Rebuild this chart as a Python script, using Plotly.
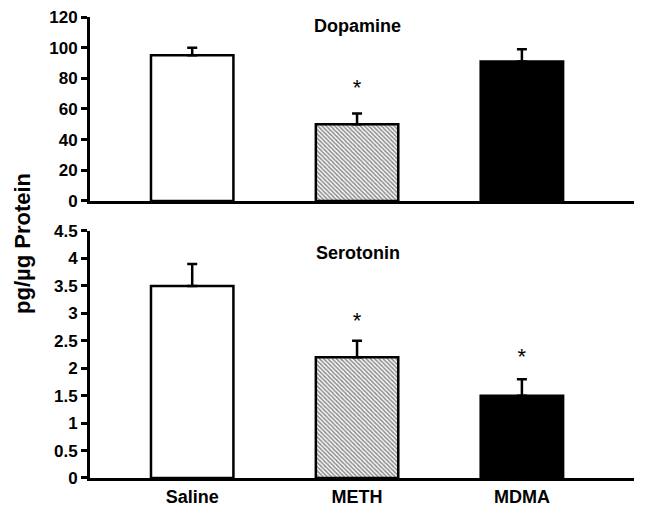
import plotly.graph_objects as go

categories = ["Saline", "METH", "MDMA"]
dopamine = [95, 50, 91]
dopamine_err = [5, 7, 8]
serotonin = [3.5, 2.2, 1.5]
serotonin_err = [0.4, 0.3, 0.3]
dopamine_star = [None, 73, None]
serotonin_star = [None, 2.84, 2.18]
dopamine_ticks = [0, 20, 40, 60, 80, 100, 120]
serotonin_ticks = [0, 0.5, 1, 1.5, 2, 2.5, 3, 3.5, 4, 4.5]
serotonin_ticktext = ["0", "0.5", "1", "1.5", "2", "2.5", "3", "3.5", "4", "4.5"]

fill_colors = ["white", "white", "black"]
patterns = ["", "\\", ""]

FONT = "Liberation Sans, Arial, sans-serif"

# page has an 8px body margin: size figure so it fits the 649x506 window
OFF = 8
W, H = 649 - OFF, 506 - OFF
ML, MR, MT, MB = 90 - OFF, 15, 17 - OFF, 28

fig = go.Figure()


def add_panel(values, errs, stars, xa, ya):
    for i, cat in enumerate(categories):
        marker = dict(color=fill_colors[i], line=dict(color="black", width=2.5))
        if patterns[i]:
            marker["pattern"] = dict(shape=patterns[i], size=3, solidity=0.55,
                                     fgcolor="#222222", fillmode="overlay")
        fig.add_trace(go.Bar(
            x=[cat], y=[values[i]], width=0.5, marker=marker,
            error_y=dict(type="data", array=[errs[i]], arrayminus=[0], symmetric=False,
                         color="black", thickness=2.5, width=5),
            xaxis=xa, yaxis=ya, showlegend=False))
    fig.add_trace(go.Scatter(
        x=categories, y=stars, mode="text",
        text=["*" if s is not None else "" for s in stars],
        textfont=dict(family=FONT, size=22, color="black"),
        xaxis=xa, yaxis=ya, showlegend=False, hoverinfo="skip"))


add_panel(dopamine, dopamine_err, dopamine_star, "x", "y")
add_panel(serotonin, serotonin_err, serotonin_star, "x2", "y2")

xrange = [-0.62, 2.68]
axis_common = dict(showline=True, linecolor="black", linewidth=3, showgrid=False,
                   zeroline=False, mirror=False, automargin=False,
                   ticklabeloverflow="allow")
tickfont = dict(family=FONT, size=17, color="black", weight="bold")

fig.update_layout(
    width=W, height=H,
    margin=dict(l=ML, r=MR, t=MT, b=MB, autoexpand=False),
    paper_bgcolor="white", plot_bgcolor="white",
    font=dict(family=FONT, color="black", size=16),
    barmode="overlay",
    xaxis=dict(domain=[0, 1], anchor="y", range=xrange, showticklabels=False, ticks="",
               **axis_common),
    yaxis=dict(domain=[0.6009, 1.0], anchor="x", range=[0, 120], tickvals=dopamine_ticks,
               ticks="outside", ticklen=6, tickwidth=2.5, tickcolor="black",
               tickfont=tickfont, **axis_common),
    xaxis2=dict(domain=[0, 1], anchor="y2", range=xrange, ticks="",
                tickfont=dict(family=FONT, size=18, color="black", weight="bold"),
                **axis_common),
    yaxis2=dict(domain=[0, 0.5358], anchor="x2", range=[0, 4.5], tickvals=serotonin_ticks,
                ticktext=serotonin_ticktext,
                ticks="outside", ticklen=6, tickwidth=2.5, tickcolor="black",
                tickfont=tickfont, **axis_common),
)

pw, ph = W - ML - MR, H - MT - MB


def px_ann(text, px, py, size, angle=0):
    rx, ry = px - OFF, py - OFF
    fig.add_annotation(text=text, x=(rx - ML) / pw, y=(H - MB - ry) / ph,
                       xref="paper", yref="paper", xanchor="center", yanchor="middle",
                       textangle=angle, showarrow=False,
                       font=dict(family=FONT, size=size, color="black", weight="bold"))


px_ann("Dopamine", 357, 26, 18)
px_ann("Serotonin", 358, 253, 18)
px_ann("pg/µg Protein", 22, 244, 22, angle=-90)

fig.write_html("out.html")
